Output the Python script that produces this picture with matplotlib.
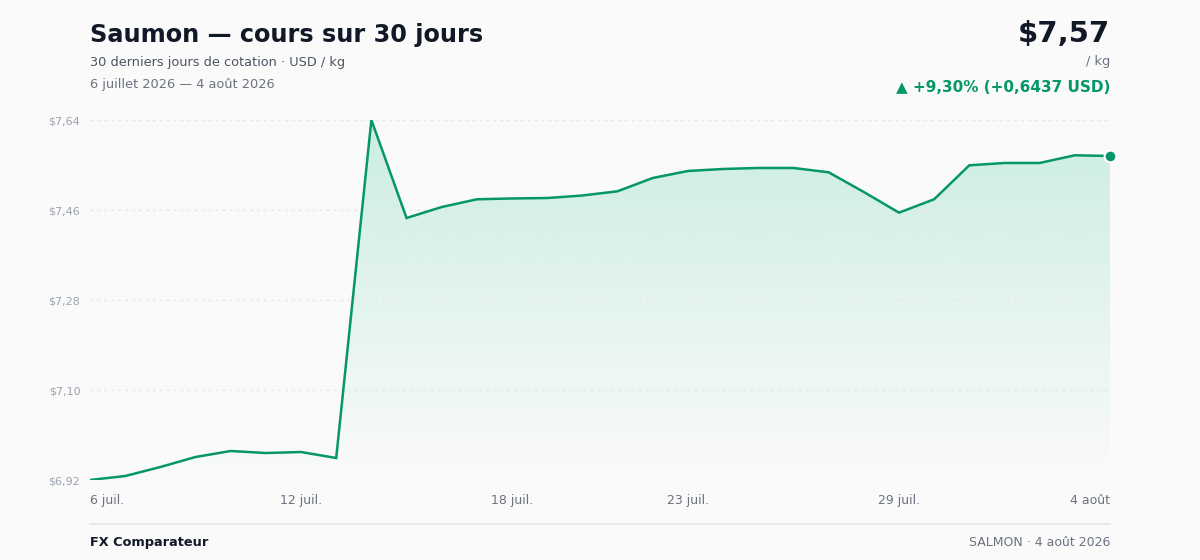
import matplotlib
matplotlib.use('Agg')
import matplotlib.pyplot as plt
import matplotlib.dates as mdates
from matplotlib.colors import to_rgb
import numpy as np
import pandas as pd

# daily salmon price, USD / kg
dates = pd.date_range("2026-07-06", "2026-08-04", freq="D")
prices = [
    6.9215, 6.9294, 6.9473, 6.9672, 6.9791, 6.9751, 6.9771, 6.9652,
    7.6367, 7.4420, 7.4638, 7.4792, 7.4808, 7.4817, 7.4867, 7.4951,
    7.5215, 7.5354, 7.5394, 7.5414, 7.5414, 7.5328, 7.4937, 7.4526,
    7.4792, 7.5467, 7.5513, 7.5513, 7.5666, 7.5652,
]
tick_dates = ["2026-07-06", "2026-07-12", "2026-07-18", "2026-07-23", "2026-07-29", "2026-08-04"]
tick_labels = ["6 juil.", "12 juil.", "18 juil.", "23 juil.", "29 juil.", "4 août"]

title = "Saumon — cours sur 30 jours"
subtitle = "30 derniers jours de cotation · USD / kg"
period = "6 juillet 2026 — 4 août 2026"
brand = "FX Comparateur"
footer_right = "SALMON · 4 août 2026"

GREEN = "#059669"
FILL = "#10b981"
BG = "#fafafa"
DARK = "#111827"
MUTED = "#6b7280"
GRID = "#e5e7eb"


def fr(v, nd):
    return f"{v:.{nd}f}".replace(".", ",")


first, last = prices[0], prices[-1]
change = last - first
pct = change / first * 100

fig = plt.figure(figsize=(12, 5.6), dpi=100, facecolor=BG)
ax = fig.add_axes([90 / 1200, 80 / 560, 1020 / 1200, 360 / 560])
ax.set_facecolor(BG)

x = mdates.date2num(dates)
lo, hi = min(prices), max(prices)
ax.set_xlim(x[0], x[-1])
ax.set_ylim(lo, hi)

# gradient fill under the line (stronger at the top)
grad = np.zeros((256, 1, 4))
grad[:, 0, :3] = to_rgb(FILL)
grad[:, 0, 3] = np.linspace(0.2, 0.0, 256)
img = ax.imshow(grad, aspect="auto", extent=[x[0], x[-1], lo, hi], origin="upper", zorder=1)
poly = ax.fill_between(x, prices, lo, facecolor="none", edgecolor="none")
img.set_clip_path(poly.get_paths()[0], transform=ax.transData)

ax.plot(x, prices, color=GREEN, lw=1.8, zorder=3, solid_joinstyle="miter")
ax.scatter([x[-1]], [last], s=72, color=GREEN, edgecolor="white", linewidth=1.5, zorder=4, clip_on=False)

# y grid + labels
yt = np.linspace(lo, hi, 5)
ax.set_yticks(yt)
ax.set_yticklabels(["$" + fr(v, 2) for v in yt])
for v in yt:
    ax.axhline(v, color=GRID, lw=1, ls=(0, (2, 3)), zorder=2)
ax.tick_params(axis="y", length=0, pad=7, labelsize=8, labelcolor="#9ca3af")

ax.set_xticks(mdates.date2num(pd.to_datetime(tick_dates)))
ax.set_xticklabels(tick_labels)
ax.tick_params(axis="x", length=0, pad=10, labelsize=9, labelcolor=MUTED)
xl = ax.get_xticklabels()
xl[0].set_ha("left")
xl[-1].set_ha("right")

for s in ax.spines.values():
    s.set_visible(False)

# header
fig.text(90 / 1200, 1 - 42 / 560, title, fontsize=17.3, fontweight="bold", color=DARK, va="baseline")
fig.text(90 / 1200, 1 - 66 / 560, subtitle, fontsize=9.3, color="#4b5563", va="baseline")
fig.text(90 / 1200, 1 - 88 / 560, period, fontsize=9.3, color=MUTED, va="baseline")

fig.text(1110 / 1200, 1 - 42 / 560, "$" + fr(last, 2), fontsize=21, fontweight="bold", color=DARK,
         ha="right", va="baseline")
fig.text(1110 / 1200, 1 - 65 / 560, "/ kg", fontsize=9.3, color=MUTED, ha="right", va="baseline")
fig.text(1110 / 1200, 1 - 92 / 560, f"▲ +{fr(pct, 2)}% (+{fr(change, 4)} USD)", fontsize=11,
         fontweight="bold", color=GREEN, ha="right", va="baseline")

# footer
fig.add_artist(plt.Line2D([90 / 1200, 1110 / 1200], [1 - 524 / 560] * 2, color=GRID, lw=1.2))
fig.text(90 / 1200, 1 - 546 / 560, brand, fontsize=9.3, fontweight="bold", color=DARK, va="baseline")
fig.text(1110 / 1200, 1 - 546 / 560, footer_right, fontsize=9, color=MUTED, ha="right", va="baseline")

fig.savefig("out.png", dpi=100, facecolor=BG)
